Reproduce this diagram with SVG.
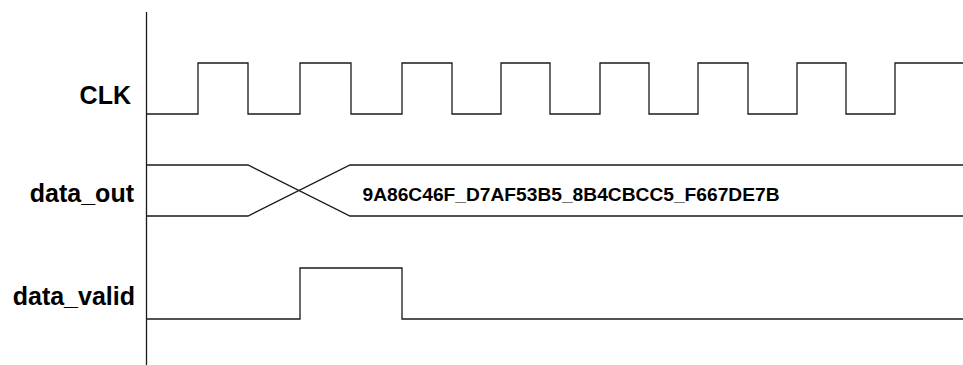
<svg xmlns="http://www.w3.org/2000/svg" width="963" height="365" viewBox="0 0 963 365">
<style>
.w{fill:none;stroke:#1a1a1a;stroke-width:1.3;stroke-linejoin:miter}
.lbl{font-family:"Liberation Sans",Arial,sans-serif;font-weight:bold;font-size:25px;fill:#000;text-anchor:end}
.val{font-family:"Liberation Sans",Arial,sans-serif;font-weight:bold;font-size:19.2px;fill:#000}
</style>
<rect width="963" height="365" fill="#fff"/>
<g id="axis">
<path class="w" d="M146.5,12 V365"/>
</g>
<g id="clk">
<text class="lbl" x="131" y="104">CLK</text>
<path class="w" d="M146,114 H198 V63 H248 V114 H300 V63 H351 V114 H402 V63 H452 V114 H501 V63 H550 V114 H600 V63 H649 V114 H698 V63 H748 V114 H797 V63 H846 V114 H895 V63 H963"/>
</g>
<g id="data_out">
<text class="lbl" x="134" y="202">data_out</text>
<path class="w" d="M146,165 H248 L350,216 H963 M146,216 H248 L350,165 H963"/>
<text class="val" x="362.5" y="201">9A86C46F_D7AF53B5_8B4CBCC5_F667DE7B</text>
</g>
<g id="data_valid">
<text class="lbl" x="135" y="304.5">data_valid</text>
<path class="w" d="M146,319 H300 V268 H402 V319 H963"/>
</g>
</svg>
